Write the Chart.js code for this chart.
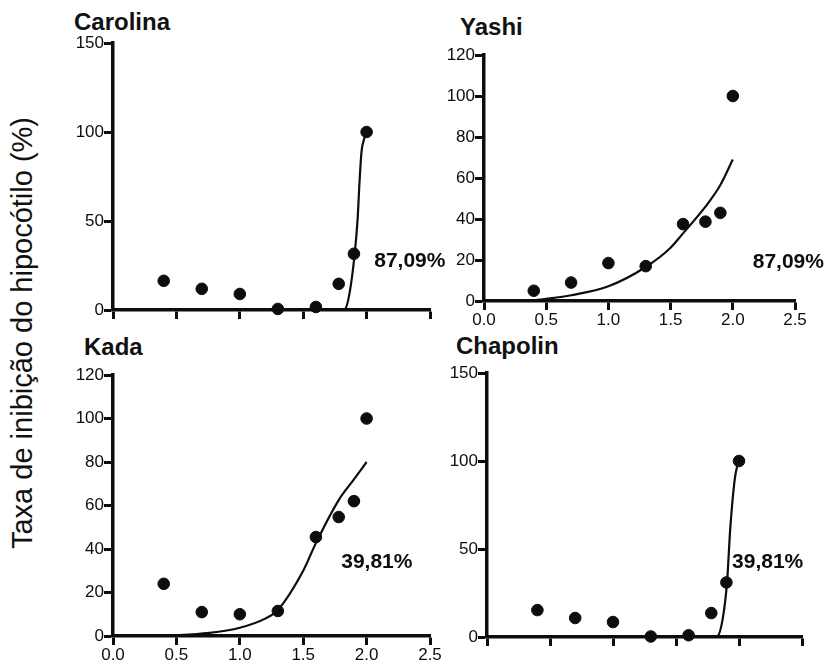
<!DOCTYPE html>
<html lang="pt">
<head>
<meta charset="utf-8">
<title>Taxa de inibição do hipocótilo</title>
<script src="https://cdn.jsdelivr.net/npm/chart.js@4.4.1/dist/chart.umd.min.js"></script>
<style>
  body { margin: 0; background: #fff; }
  #wrap { position: relative; width: 828px; height: 668px; overflow: hidden; font-family: 'Liberation Sans', Arial, sans-serif; color: #111; }
  canvas { position: absolute; }
  .titulo { position: absolute; font-weight: bold; font-size: 24px; line-height: 1; white-space: nowrap; }
  #ylabel { position: absolute; left: 22px; top: 333px; transform: translate(-50%, -50%) rotate(-90deg); font-size: 29px; white-space: nowrap; }
</style>
</head>
<body>
<div id="wrap">
  <div id="ylabel">Taxa de inibição do hipocótilo (%)</div>
  <div class="titulo" style="left:74px; top:10px">Carolina</div>
  <div class="titulo" style="left:460px; top:15px">Yashi</div>
  <div class="titulo" style="left:84px; top:335px">Kada</div>
  <div class="titulo" style="left:456px; top:334px">Chapolin</div>
  <canvas id="carolina"></canvas>
  <canvas id="yashi"></canvas>
  <canvas id="kada"></canvas>
  <canvas id="chapolin"></canvas>
</div>
<script>
// log da concentração (eixo x)
const doses = [0.4, 0.7, 1.0, 1.3, 1.6, 1.78, 1.9, 2.0];

// pontos observados (%)
const carolinaPts = [16.4, 11.9, 9, 0.6, 1.7, 14.7, 31.6, 100];
const yashiPts    = [5, 9, 18.5, 17, 37.5, 38.7, 43, 100];
const kadaPts     = [24, 11, 10, 11.5, 45.5, 54.7, 62, 100];
const chapolinPts = [15.3, 10.8, 8.5, 0.3, 1, 13.6, 31, 100];

// curvas ajustadas
const carolinaFitX = [0.4, 1.0, 1.6, 1.8, 1.83, 1.866, 1.906, 1.929, 1.945, 1.96, 1.98, 2.0];
const carolinaFitY = [0, 0, 0, 0, 0.5, 9.6, 31.6, 51, 73, 89, 96, 100];
const yashiFitX = [0.4, 0.5, 0.7, 1.0, 1.3, 1.5, 1.6, 1.78, 1.9, 2.0];
const yashiFitY = [0.3, 1, 2.8, 7.2, 16.6, 26, 33, 46, 56.6, 69];
const kadaFitX = [0.4, 0.76, 1.0, 1.2, 1.3, 1.5, 1.6, 1.78, 1.9, 2.0];
const kadaFitY = [0, 1.4, 3.8, 8, 12, 30, 42.7, 62.5, 72, 80];
const chapolinFitX = [0.4, 1.0, 1.6, 1.8, 1.83, 1.87, 1.905, 1.93, 1.965, 1.985, 2.0];
const chapolinFitY = [0, 0, 0, 0, 0.5, 10, 31, 61, 89, 97, 100];

const xTicks = [0, 0.5, 1.0, 1.5, 2.0, 2.5];
const notas = ['87,09%', '87,09%', '39,81%', '39,81%'];

const preto = '#0d0d0d';
const fonteTicks = { family: "'Liberation Sans', Arial, sans-serif", size: 17 };

// texto do percentual dentro de cada painel
const notaPlugin = {
    id: 'nota',
    afterDatasetsDraw(chart, args, opts) {
        if (!opts.text) return;
        const { ctx, scales: { x, y } } = chart;
        ctx.save();
        ctx.font = 'bold 21px "Liberation Sans", Arial, sans-serif';
        ctx.fillStyle = preto;
        ctx.textAlign = 'left';
        ctx.textBaseline = 'middle';
        ctx.fillText(opts.text, x.getPixelForValue(opts.x), y.getPixelForValue(opts.y));
        ctx.restore();
    }
};

function toXY(xs, ys) {
    return xs.map((v, i) => ({ x: v, y: ys[i] }));
}

function painel(id, cfg) {
    const a = cfg.area;
    const padL = 90, padT = 30, padR = 40, padB = 40;
    const cv = document.getElementById(id);
    cv.width = a.right - a.left + padL + padR;
    cv.height = a.bottom - a.top + padT + padB;
    cv.style.left = (a.left - padL) + 'px';
    cv.style.top = (a.top - padT) + 'px';

    const grade = () => ({ display: true, drawOnChartArea: false, drawTicks: true, tickLength: 9, tickWidth: 3, tickColor: preto, color: preto });
    const borda = () => ({ display: true, color: preto, width: 3.5 });

    return new Chart(cv, {
        type: 'scatter',
        data: {
            datasets: [
                {
                    data: toXY(doses, cfg.pts),
                    backgroundColor: preto,
                    borderColor: preto,
                    pointRadius: 5.8,
                    clip: false
                },
                {
                    data: toXY(cfg.fitX, cfg.fitY),
                    showLine: true,
                    borderColor: preto,
                    borderWidth: 2.2,
                    pointRadius: 0,
                    cubicInterpolationMode: 'monotone',
                    clip: false
                }
            ]
        },
        options: {
            responsive: false,
            animation: false,
            devicePixelRatio: 1,
            layout: { padding: { left: 0, top: padT, right: padR, bottom: 0 } },
            plugins: {
                legend: { display: false },
                tooltip: { enabled: false },
                nota: { text: cfg.nota, x: cfg.notaX, y: cfg.notaY }
            },
            scales: {
                x: {
                    type: 'linear',
                    min: 0,
                    max: 2.5,
                    afterBuildTicks: s => { s.ticks = xTicks.map(v => ({ value: v })); },
                    ticks: {
                        autoSkip: false,
                        maxRotation: 0,
                        padding: 0,
                        color: preto,
                        font: fonteTicks,
                        callback: v => cfg.xLabels ? Number(v).toFixed(1) : ''
                    },
                    grid: grade(),
                    border: borda(),
                    afterFit: s => { s.height = padB; }
                },
                y: {
                    min: 0,
                    max: cfg.yMax,
                    ticks: { stepSize: cfg.yStep, padding: 0, color: preto, font: fonteTicks },
                    grid: grade(),
                    border: borda(),
                    afterFit: s => { s.width = padL; }
                }
            }
        },
        plugins: [notaPlugin]
    });
}

painel('carolina', {
    area: { left: 113, top: 43, right: 430, bottom: 310 },
    pts: carolinaPts, fitX: carolinaFitX, fitY: carolinaFitY,
    yMax: 150, yStep: 50, xLabels: false,
    nota: notas[0], notaX: 2.06, notaY: 27.5
});
painel('yashi', {
    area: { left: 484, top: 55, right: 795, bottom: 301 },
    pts: yashiPts, fitX: yashiFitX, fitY: yashiFitY,
    yMax: 120, yStep: 20, xLabels: true,
    nota: notas[1], notaX: 2.16, notaY: 19
});
painel('kada', {
    area: { left: 113, top: 375, right: 430, bottom: 636 },
    pts: kadaPts, fitX: kadaFitX, fitY: kadaFitY,
    yMax: 120, yStep: 20, xLabels: true,
    nota: notas[2], notaX: 1.8, notaY: 34
});
painel('chapolin', {
    area: { left: 487, top: 373, right: 802, bottom: 637 },
    pts: chapolinPts, fitX: chapolinFitX, fitY: chapolinFitY,
    yMax: 150, yStep: 50, xLabels: false,
    nota: notas[3], notaX: 1.945, notaY: 42.6
});
</script>
</body>
</html>
